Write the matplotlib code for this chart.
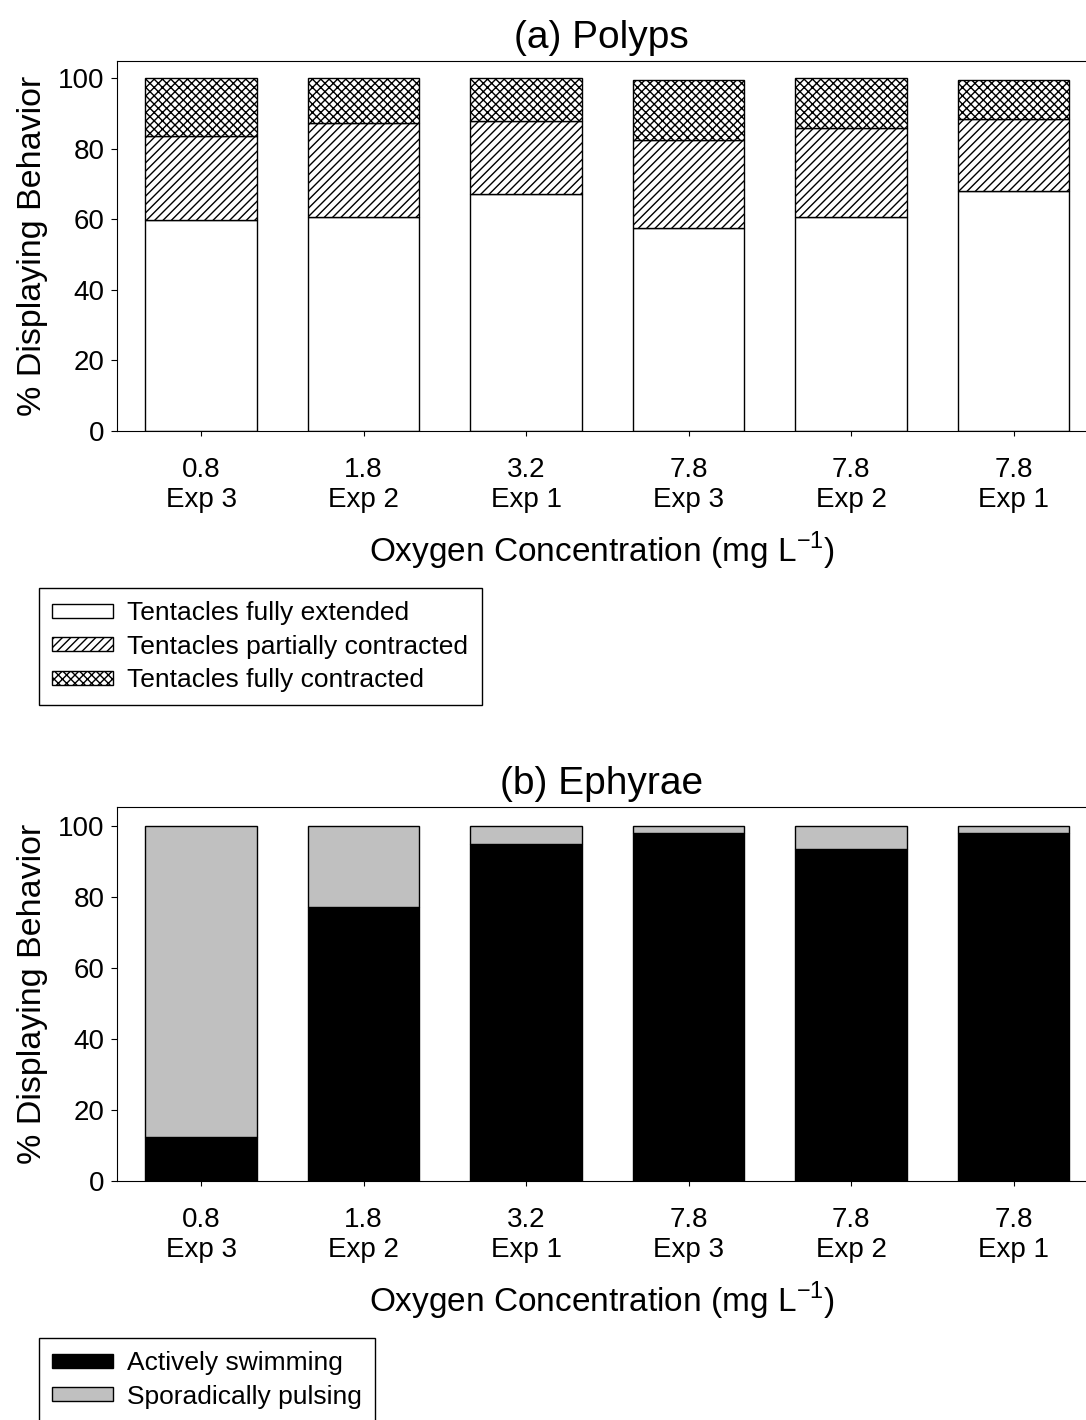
import matplotlib
matplotlib.use("Agg")
import matplotlib.pyplot as plt
import numpy as np

plt.rcParams['font.family'] = ['Liberation Sans', 'DejaVu Sans']
plt.rcParams['mathtext.fontset'] = 'custom'
plt.rcParams['mathtext.rm'] = 'Liberation Sans'
plt.rcParams['hatch.linewidth'] = 1.0

# datos
conc = ["0.8", "1.8", "3.2", "7.8", "7.8", "7.8"]
exps = ["Exp 3", "Exp 2", "Exp 1", "Exp 3", "Exp 2", "Exp 1"]

# polyps
extended = [59.8, 60.5, 67.1, 57.4, 60.7, 68.0]
partial = [23.7, 26.8, 20.6, 24.9, 25.0, 20.5]
contracted = [16.5, 12.7, 12.3, 17.1, 14.2, 10.9]

# ephyrae
swimming = [12.5, 77.3, 95.0, 98.0, 93.7, 98.2]
pulsing = [87.5, 22.7, 5.0, 2.0, 6.3, 1.8]

labels = [c + "\n" + e for c, e in zip(conc, exps)]
x = np.arange(len(labels))
w = 0.686

fig = plt.figure(figsize=(10.86, 14.2), dpi=100)
ax1 = fig.add_axes([117/1086, 1 - 431/1420, 969/1086, 370/1420])
ax2 = fig.add_axes([117/1086, 1 - 1181/1420, 969/1086, 374/1420])

b1 = ax1.bar(x, extended, w, color="white", edgecolor="black", lw=1)
b2 = ax1.bar(x, partial, w, bottom=extended, color="white", edgecolor="black", lw=1, hatch="////")
bot = np.array(extended) + np.array(partial)
b3 = ax1.bar(x, contracted, w, bottom=bot, color="white", edgecolor="black", lw=1, hatch="xxxx")

c1 = ax2.bar(x, swimming, w, color="black", edgecolor="black", lw=1)
c2 = ax2.bar(x, pulsing, w, bottom=swimming, color="#c0c0c0", edgecolor="black", lw=1)

for ax, title, top in [(ax1, "(a) Polyps", 104.8), (ax2, "(b) Ephyrae", 105.4)]:
    ax.set_xlim(-0.517, 5.446)
    ax.set_ylim(0, top)
    ax.set_yticks([0, 20, 40, 60, 80, 100])
    ax.set_xticks(x)
    ax.set_xticklabels(labels)
    ax.tick_params(axis="x", direction="out", length=3.5, pad=15, labelsize=20)
    ax.tick_params(axis="y", direction="out", length=4, pad=5, labelsize=20)
    ax.set_title(title, fontsize=28, pad=9)
    ax.set_ylabel("% Displaying Behavior", fontsize=24.5, labelpad=7)
    ax.set_xlabel("Oxygen Concentration (mg L$^{-1}$)", fontsize=24, labelpad=12)
    ax.spines["right"].set_visible(False)

legkw = dict(loc="upper left", fontsize=19, fancybox=False, edgecolor="black",
             framealpha=1, handlelength=2.3, handleheight=0.45, labelspacing=0.36,
             borderpad=0.5, handletextpad=0.55, borderaxespad=0)

leg1 = fig.legend([b1, b2, b3],
                  ["Tentacles fully extended", "Tentacles partially contracted", "Tentacles fully contracted"],
                  bbox_to_anchor=(39/1086, 1 - 588/1420), **legkw)
leg1.get_frame().set_linewidth(1)

leg2 = fig.legend([c1, c2], ["Actively swimming", "Sporadically pulsing"],
                  bbox_to_anchor=(39/1086, 1 - 1338/1420), **legkw)
leg2.get_frame().set_linewidth(1)

fig.savefig("out.png", dpi=100)
